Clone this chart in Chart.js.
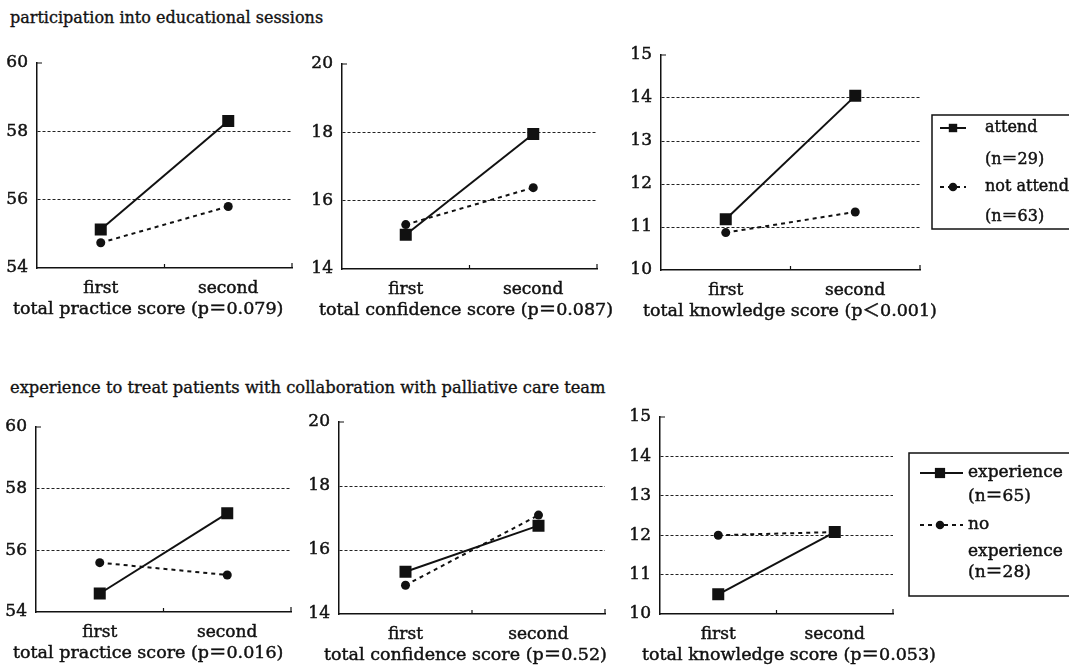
<!DOCTYPE html>
<html><head><meta charset="utf-8">
<script src="https://cdn.jsdelivr.net/npm/chart.js@4/dist/chart.umd.min.js"></script>
<style>
html,body{margin:0;padding:0;background:#fff;width:1069px;height:672px;overflow:hidden;position:relative;font-family:"DejaVu Serif","Noto Sans CJK JP",serif;color:#111}
.sec{position:absolute;left:10px;font-size:16px;line-height:20px;white-space:nowrap;-webkit-text-stroke:0.35px #111}
canvas{position:absolute}
</style></head><body>
<div class="sec" style="top:8px">participation into educational sessions</div>
<div class="sec" style="top:378px;font-size:16.3px">experience to treat patients with collaboration with palliative care team</div>
<canvas id="c1"></canvas><canvas id="c2"></canvas><canvas id="c3"></canvas>
<canvas id="c4"></canvas><canvas id="c5"></canvas><canvas id="c6"></canvas>
<script>
// ---- data ----
const categories = ['first', 'second'];

const practiceTicks = [54, 60, 2];   // min, max, step
const confidenceTicks = [14, 20, 2];
const knowledgeTicks = [10, 15, 1];

// participation into educational sessions
const attendPractice = [55.13, 58.3];
const notAttendPractice = [54.74, 55.8];
const attendConfidence = [15.0, 17.95];
const notAttendConfidence = [15.3, 16.38];
const attendKnowledge = [11.18, 14.05];
const notAttendKnowledge = [10.87, 11.35];

// experience with palliative care team
const expPractice = [54.6, 57.2];
const noExpPractice = [55.6, 55.2];
const expConfidence = [15.32, 16.76];
const noExpConfidence = [14.9, 17.09];
const expKnowledge = [10.5, 12.08];
const noExpKnowledge = [12.0, 12.08];

const panelTitles = [
  'total practice score (p＝0.079)',
  'total confidence score (p＝0.087)',
  'total knowledge score (p＜0.001)',
  'total practice score (p＝0.016)',
  'total confidence score (p＝0.52)',
  'total knowledge score (p＝0.053)'
];
const legendTop = [['attend', '(n＝29)'], ['not attend', '(n＝63)']];
const legendBottom = [['experience', '(n＝65)'], ['no', 'experience', '(n＝28)']];

// ---- rendering ----
const FONT = '"DejaVu Serif", "Noto Sans CJK JP", serif';
const INK = '#111';
const STROKE = 0.45;

function inkText(ctx, t, x, y) {
  ctx.fillText(t, x, y);
  ctx.save();
  ctx.lineWidth = STROKE;
  ctx.strokeStyle = INK;
  ctx.setLineDash([]);
  ctx.strokeText(t, x, y);
  ctx.restore();
}

const boxLegend = {
  id: 'boxLegend',
  afterDraw(chart, args, opts) {
    if (!opts || !opts.items) return;
    const ctx = chart.ctx;
    const x0 = chart.chartArea.right + opts.gap;
    const y0 = chart.chartArea.top + opts.top;
    ctx.save();
    ctx.lineWidth = 1.5;
    ctx.strokeStyle = INK;
    ctx.strokeRect(x0, y0, chart.width - x0 + 10, opts.height);
    ctx.font = opts.fontSize + 'px ' + FONT;
    ctx.fillStyle = INK;
    ctx.textBaseline = 'middle';
    ctx.textAlign = 'left';
    opts.items.forEach((item, i) => {
      const ds = chart.data.datasets[i];
      const y = y0 + item.rows[0];
      ctx.save();
      ctx.lineWidth = ds.borderWidth;
      ctx.setLineDash(ds.borderDash || []);
      ctx.beginPath();
      ctx.moveTo(x0 + opts.lineX1, y);
      ctx.lineTo(x0 + opts.lineX2, y);
      ctx.stroke();
      ctx.restore();
      ctx.beginPath();
      if (ds.pointStyle === 'rect') {
        const s = ds.pointRadius * opts.markerScale * Math.SQRT1_2;
        ctx.rect(x0 + opts.markerX - s, y - s, 2 * s, 2 * s);
      } else {
        ctx.arc(x0 + opts.markerX, y, ds.pointRadius * 0.95, 0, Math.PI * 2);
      }
      ctx.fill();
      item.text.forEach((t, j) => inkText(ctx, t, x0 + opts.textX, y0 + item.rows[j]));
    });
    ctx.restore();
  }
};

const axisCaption = {
  id: 'axisCaption',
  afterDraw(chart, args, opts) {
    if (!opts || !opts.text) return;
    const ctx = chart.ctx, a = chart.chartArea;
    ctx.save();
    ctx.font = '17.5px ' + FONT;
    ctx.fillStyle = INK;
    ctx.textBaseline = 'middle';
    ctx.textAlign = 'left';
    inkText(ctx, opts.text, a.left + opts.dx, a.bottom + opts.dy);
    // small end ticks of the axes
    ctx.strokeStyle = INK;
    ctx.lineWidth = 1.2;
    ctx.beginPath();
    ctx.moveTo(a.left, a.top); ctx.lineTo(a.left + 5, a.top);
    ctx.moveTo(a.right, a.bottom); ctx.lineTo(a.right, a.bottom - 5);
    ctx.moveTo((a.left + a.right) / 2, a.bottom); ctx.lineTo((a.left + a.right) / 2, a.bottom - 4);
    ctx.stroke();
    ctx.restore();
  }
};

function makePanel(cfg) {
  const cv = document.getElementById(cfg.id);
  const left = cfg.L - 40, top = cfg.T - 12;
  const W = 40 + (cfg.R - cfg.L) + cfg.extra;
  const H = 12 + (cfg.B - cfg.T) + 31 + 24;
  cv.width = W; cv.height = H;
  cv.style.left = left + 'px'; cv.style.top = top + 'px';
  cv.style.width = W + 'px'; cv.style.height = H + 'px';
  const [mn, mx, st] = cfg.ticks;
  const tickFont = { family: FONT, size: 17 };
  new Chart(cv, {
    type: 'line',
    data: {
      labels: categories,
      datasets: [
        { label: cfg.legendText[0].join(' '), data: cfg.a, borderColor: INK, backgroundColor: INK,
          borderWidth: 2, pointStyle: 'rect', pointRadius: 8.5, pointBorderWidth: 0, yAxisID: 'y' },
        { label: cfg.legendText[1].join(' '), data: cfg.b, borderColor: INK, backgroundColor: INK,
          borderWidth: 2, borderDash: [4, 4], pointStyle: 'circle', pointRadius: 4.5, pointBorderWidth: 0, yAxisID: 'y' }
      ]
    },
    options: {
      responsive: false, devicePixelRatio: 1, animation: false, events: [],
      layout: { padding: { left: 0, top: 12, right: 0, bottom: 24 } },
      scales: {
        x: {
          type: 'category', offset: true,
          grid: { display: false, drawTicks: false },
          border: { display: true, color: INK, width: 1.5 },
          ticks: { color: INK, padding: 10, font: tickFont, textStrokeColor: INK, textStrokeWidth: STROKE },
          afterFit: s => { s.height = 31; s.paddingLeft = 0; s.paddingRight = 0; }
        },
        y: {
          position: 'left', min: mn, max: mx,
          grid: {
            drawTicks: false, lineWidth: 1,
            color: c => (c.tick && c.tick.value > mn && c.tick.value < mx) ? '#222' : 'rgba(0,0,0,0)'
          },
          border: { display: true, color: INK, width: 1.5, dash: [3, 2] },
          ticks: { stepSize: st, color: INK, padding: 9, font: tickFont, textStrokeColor: INK, textStrokeWidth: STROKE },
          afterFit: s => { s.width = 40; s.paddingTop = 0; s.paddingBottom = 0; }
        },
        yR: {
          position: 'right', display: true,
          grid: { display: false }, border: { display: false }, ticks: { display: false },
          afterFit: s => { s.width = cfg.extra; s.paddingTop = 0; s.paddingBottom = 0; }
        }
      },
      plugins: {
        legend: { display: false },
        tooltip: { enabled: false },
        axisCaption: { text: cfg.title, dx: cfg.titleStart - cfg.L, dy: 41 },
        boxLegend: cfg.legend || {}
      }
    },
    plugins: [boxLegend, axisCaption]
  });
}

makePanel({ id: 'c1', L: 37, R: 292, T: 63, B: 268, extra: 40, titleStart: 13, ticks: practiceTicks,
  a: attendPractice, b: notAttendPractice, title: panelTitles[0], legendText: legendTop });
makePanel({ id: 'c2', L: 342, R: 597, T: 64, B: 269, extra: 40, titleStart: 319, ticks: confidenceTicks,
  a: attendConfidence, b: notAttendConfidence, title: panelTitles[1], legendText: legendTop });
makePanel({ id: 'c3', L: 661, R: 920, T: 55, B: 270, extra: 149, titleStart: 643, ticks: knowledgeTicks,
  a: attendKnowledge, b: notAttendKnowledge, title: panelTitles[2], legendText: legendTop,
  legend: { gap: 12, top: 60, height: 114, lineX1: 8, lineX2: 34, markerX: 21, textX: 53, markerScale: 0.7, fontSize: 16,
    items: [{ text: legendTop[0], rows: [13, 45] }, { text: legendTop[1], rows: [72, 102] }] } });
makePanel({ id: 'c4', L: 36, R: 291, T: 427, B: 612, extra: 40, titleStart: 13, ticks: practiceTicks,
  a: expPractice, b: noExpPractice, title: panelTitles[3], legendText: legendBottom });
makePanel({ id: 'c5', L: 339, R: 605, T: 422, B: 614, extra: 40, titleStart: 324, ticks: confidenceTicks,
  a: expConfidence, b: noExpConfidence, title: panelTitles[4], legendText: legendBottom });
makePanel({ id: 'c6', L: 660, R: 893, T: 417, B: 614, extra: 176, titleStart: 642, ticks: knowledgeTicks,
  a: expKnowledge, b: noExpKnowledge, title: panelTitles[5], legendText: legendBottom,
  legend: { gap: 16, top: 36, height: 143, lineX1: 11, lineX2: 54, markerX: 31, textX: 59, markerScale: 0.85, fontSize: 17,
    items: [{ text: legendBottom[0], rows: [20, 44] }, { text: legendBottom[1], rows: [72, 99, 120] }] } });
</script>
</body></html>
